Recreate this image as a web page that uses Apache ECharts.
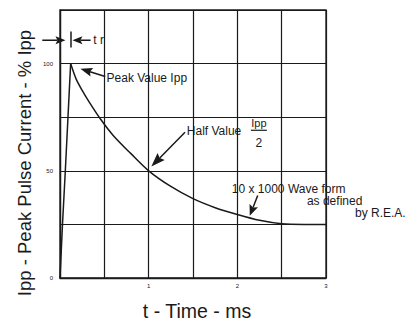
<!DOCTYPE html>
<html><head><meta charset="utf-8">
<script src="https://cdn.jsdelivr.net/npm/echarts@6/dist/echarts.min.js"></script>
<style>html,body{margin:0;padding:0;background:#fff}#c{width:409px;height:323px}</style>
</head><body><div id="c"></div>
<script>
// ---- data ----
const riseTime = [0, 0.028, 0.06, 0.09, 0.12];
const riseCurrent = [0, 25, 50, 75, 100];
const decayTime = [0.12, 0.18, 0.25, 0.33, 0.45, 0.6, 0.8, 1.0, 1.25, 1.5, 1.75, 2.0, 2.25, 2.5, 2.75, 3.0];
const decayCurrent = [100, 93, 87.5, 82, 74.5, 66.5, 58, 50, 42.7, 37, 32.8, 29.6, 26.9, 25.3, 25, 25];
const xTickLabels = ['1', '2', '3'];
const yTickLabels = ['0', '50', '100'];
const xTitle = 't - Time - ms';
const yTitle = 'Ipp - Peak Pulse Current - % Ipp';

// annotation anchors in data units [time ms, % Ipp]
const peakArrow = [[0.51, 94], [0.23, 97.6]];
const halfArrow = [[1.41, 68], [1.03, 52]];
const waveArrow = [[2.23, 38.5], [2.14, 29.0]];
const trLeftArrow = [[-0.2, 110.9], [0.062, 110.9]];
const trRightArrow = [[0.345, 110.9], [0.14, 110.9]];
const trBar = [[0.124, 107.5], [0.124, 115]];
const notes = [
  { text: 'Peak Value Ipp', at: [0.525, 93.5] },
  { text: 'Half Value', at: [1.43, 68.6] },
  { text: '10 x 1000 Wave form', at: [1.938, 41.6] },
  { text: 'as defined', at: [2.785, 36] },
  { text: 'by R.E.A.', at: [3.327, 30.4] },
  { text: 't r', at: [0.375, 110.9] }
];
const fracNum = { text: 'Ipp', at: [2.243, 72.2] };
const fracBar = [[2.153, 68.9], [2.333, 68.9]];
const fracDen = { text: '2', at: [2.243, 63.1] };

const INK = '#1a1a1a';
const FONT = '"Liberation Sans", Arial, sans-serif';
const zip = (a, b) => a.map((v, i) => [v, b[i]]);

const chart = echarts.init(document.getElementById('c'), null, { renderer: 'svg' });
chart.setOption({
  animation: false,
  backgroundColor: '#fff',
  grid: { left: 60, right: 83, top: 10, bottom: 45, outerBoundsMode: 'none',
          show: true, borderColor: INK, borderWidth: 1.3 },
  xAxis: {
    type: 'value', min: 0, max: 3, interval: 0.5,
    name: xTitle, nameLocation: 'middle', nameGap: 23,
    nameTextStyle: { fontSize: 19.5, fontFamily: FONT, color: INK, padding: [0, 0, 0, 8] },
    axisLine: { show: true, lineStyle: { color: INK, width: 1.3 } },
    axisTick: { show: false },
    splitLine: { show: true, lineStyle: { color: INK, width: 1.2 } },
    axisLabel: { fontSize: 6, fontFamily: FONT, color: INK, margin: 5,
      formatter: v => xTickLabels.includes(String(v)) ? String(v) : '' }
  },
  yAxis: {
    type: 'value', min: 0, max: 125, interval: 25,
    axisLine: { show: true, lineStyle: { color: INK, width: 1.3 } },
    axisTick: { show: false },
    splitLine: { show: true, lineStyle: { color: INK, width: 1.2 } },
    axisLabel: { fontSize: 6, fontFamily: FONT, color: INK, margin: 7,
      formatter: v => yTickLabels.includes(String(v)) ? String(v) : '' }
  },
  series: [
    { type: 'line', data: zip(riseTime, riseCurrent), showSymbol: false, smooth: false,
      lineStyle: { color: INK, width: 1.5 } },
    { type: 'line', data: zip(decayTime, decayCurrent), showSymbol: false, smooth: 0.3,
      lineStyle: { color: INK, width: 1.5 } }
  ]
});

const px = p => chart.convertToPixel({ gridIndex: 0 }, p);
function arrow(seg, headLen, headW, lw) {
  const p0 = px(seg[0]), p1 = px(seg[1]);
  const dx = p1[0] - p0[0], dy = p1[1] - p0[1], L = Math.hypot(dx, dy);
  const ux = dx / L, uy = dy / L, nx = -uy, ny = ux;
  const bx = p1[0] - ux * headLen, by = p1[1] - uy * headLen;
  return [
    { type: 'line', shape: { x1: p0[0], y1: p0[1], x2: bx + ux * 2, y2: by + uy * 2 },
      style: { stroke: INK, lineWidth: lw } },
    { type: 'polygon', shape: { points: [[p1[0], p1[1]], [bx + nx * headW, by + ny * headW],
      [bx + ux * 2, by + uy * 2], [bx - nx * headW, by - ny * headW]] }, style: { fill: INK } }
  ];
}
function seg(s, lw) {
  const a = px(s[0]), b = px(s[1]);
  return { type: 'line', shape: { x1: a[0], y1: a[1], x2: b[0], y2: b[1] }, style: { stroke: INK, lineWidth: lw } };
}
function txt(t, at, size, align) {
  const p = px(at);
  return { type: 'text', x: p[0], y: p[1],
    style: { text: t, fill: INK, font: size + 'px ' + FONT, align: align || 'left', verticalAlign: 'middle' } };
}

const g = [];
g.push(...arrow(peakArrow, 12, 4.5, 1.5));
g.push(...arrow(halfArrow, 14, 5, 1.5));
g.push(...arrow(waveArrow, 11, 4.5, 1.5));
g.push(...arrow(trLeftArrow, 10, 4, 1.5));
g.push(...arrow(trRightArrow, 10, 4, 1.5));
g.push(seg(trBar, 1.5));
notes.forEach(n => g.push(txt(n.text, n.at, 12, 'left')));
g.push(txt(fracNum.text, fracNum.at, 11, 'center'));
g.push(seg(fracBar, 1.2));
g.push(txt(fracDen.text, fracDen.at, 12, 'center'));
g.push({ type: 'text', x: 24, y: 163, rotation: Math.PI / 2,
  style: { text: yTitle, fill: INK, font: '18.5px ' + FONT, align: 'center', verticalAlign: 'middle' } });
chart.setOption({ graphic: g });
</script>
</body></html>
